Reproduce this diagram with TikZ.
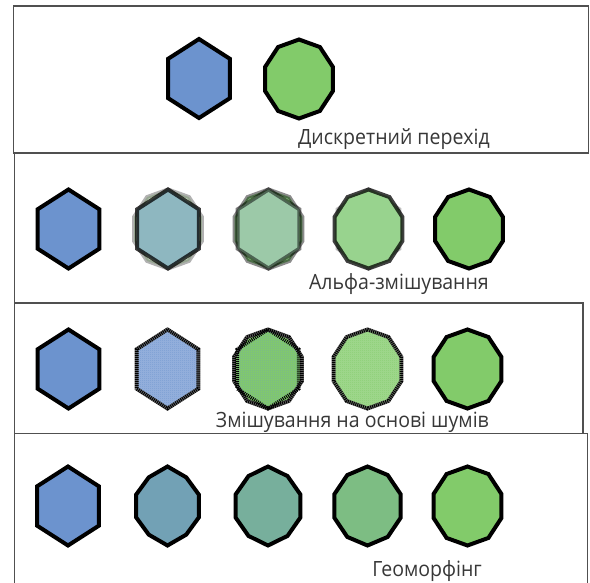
\documentclass[tikz,border=0pt]{standalone}
\usepackage{fontspec}
\setmainfont{Open Sans}
\usetikzlibrary{patterns.meta}
\definecolor{cblue}{RGB}{108,147,206}
\definecolor{cgreen}{RGB}{130,203,106}
\definecolor{frm}{RGB}{80,80,80}
\definecolor{txt}{RGB}{55,55,55}
\definecolor{ab1}{RGB}{142,183,192}
\definecolor{ab2}{RGB}{156,201,168}
\definecolor{ab3}{RGB}{152,211,142}
\tikzdeclarepattern{
  name=fchk,
  type=uncolored,
  bounding box={(0pt,0pt) and (2pt,2pt)},
  tile size={(2pt,2pt)},
  code={\fill (0pt,0pt) rectangle (1pt,1pt); \fill (1pt,1pt) rectangle (2pt,2pt);}
}
% hexagon: [style]{cx}{cy}
\newcommand\hexs[3][]{\draw[#1] plot[samples at={0,...,5},variable=\k]
  ({#2+0.9*39.5*cos(90-60*\k)},{#3-39.5*sin(90-60*\k)}) -- cycle;}
% morph hexagon->decagon: [style]{cx}{cy}{t}
\newcommand\mrps[4][]{\draw[#1] plot[samples at={0,...,9},variable=\k]
  ({#2+0.9*(39.5*(1-#4)*cos(30)/cos(mod(840-36*\k,60)-30)+39.5*#4)*cos(90-36*\k)},
   {#3-(39.5*(1-#4)*cos(30)/cos(mod(840-36*\k,60)-30)+39.5*#4)*sin(90-36*\k)}) -- cycle;}
\begin{document}
\begin{tikzpicture}[x=1pt,y=-1pt,
  shp/.style={line width=4pt,line join=miter,draw=black},
  frameline/.style={draw=frm,line width=1.4pt},
  lbl/.style={text=txt,font=\fontsize{21}{24}\selectfont,inner sep=0pt,anchor=base east},
  dith/.style={draw=black,line width=3.6pt,dash pattern=on 1pt off 1pt},
  dithbg/.style={draw=black!60,line width=4pt}]
\useasboundingbox[fill=white] (0,0) rectangle (590,583);
% frames
\draw[frameline] (13.5,6) rectangle (588.5,153);
\draw[frameline] (14.5,153) -- (14.5,303);
\draw[frameline] (14.5,303) rectangle (583,433.5);
\draw[frameline] (14.5,583) -- (14.5,433.5) -- (587.5,433.5) -- (587.5,583);
% panel 1: discrete
\hexs[shp,fill=cblue]{199}{78.5}
\mrps[shp,fill=cgreen]{299}{79}{1}
\node[lbl] (l1) at (490,145) {\scalebox{0.93}[1]{Дискретний перехід}};
% panel 2: alpha blending
\hexs[shp,fill=cblue]{68.5}{229}
\mrps[shp,fill=cgreen,opacity=0.3]{168}{229}{1}
\hexs[shp,fill=ab1,draw opacity=0.75]{168}{229}
\mrps[shp,fill=cgreen!60!ab2,draw opacity=0.45]{268.5}{229}{1}
\hexs[shp,fill=ab2,draw opacity=0.5]{268.5}{229}
\hexs[shp,fill=ab3,draw opacity=0.25]{368.5}{229}
\mrps[shp,fill=ab3,draw opacity=0.75]{368.5}{229}{1}
\mrps[shp,fill=cgreen]{469}{229}{1}
\node[lbl] (l2) at (489,290) {\scalebox{0.93}[1]{Альфа-змішування}};
% panel 3: noise-based blending
\hexs[shp,fill=cblue]{68.5}{369}
\hexs[dithbg,fill=cblue!70!white,postaction={pattern=fchk,pattern color=cblue}]{167.5}{369}
\hexs[dith]{167.5}{369}
\mrps[dithbg,fill=cgreen]{268}{369}{1}
\hexs[draw=none,pattern=fchk,pattern color=cblue!55!cgreen]{268}{369}
\mrps[dith]{268}{369}{1}
\hexs[dith]{268}{369}
\mrps[dithbg,fill=cgreen!75!white,postaction={pattern=fchk,pattern color=cgreen}]{367.5}{369}{1}
\mrps[dith]{367.5}{369}{1}
\mrps[shp,fill=cgreen]{467.5}{369}{1}
\node[lbl] (l3) at (489,428) {\scalebox{0.93}[1]{Змішування на основі шумів}};
% panel 4: geomorphing
\hexs[shp,fill=cblue]{68}{506}
\mrps[shp,fill=cgreen!25!cblue]{167.5}{506}{0.2}
\mrps[shp,fill=cgreen!50!cblue]{268}{506}{0.5}
\mrps[shp,fill=cgreen!75!cblue]{367.5}{506}{0.75}
\mrps[shp,fill=cgreen]{467.5}{506}{1}
\node[lbl] (l4) at (482,576) {\scalebox{0.93}[1]{Геоморфінг}};
\end{tikzpicture}
\end{document}
